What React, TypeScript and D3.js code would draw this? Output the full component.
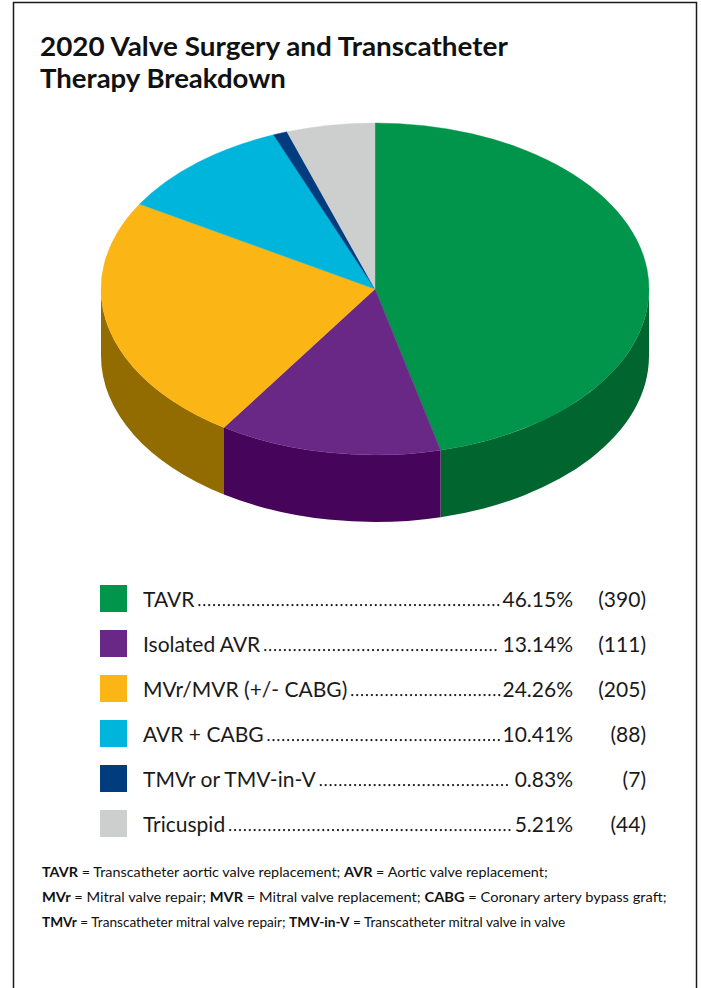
import React, { useEffect, useRef } from "react";
import * as d3 from "d3";

const categories = ["TAVR", "Isolated AVR", "MVr/MVR (+/- CABG)", "AVR + CABG", "TMVr or TMV-in-V", "Tricuspid"];
const counts = [390, 111, 205, 88, 7, 44];
const percentLabels = ["46.15%", "13.14%", "24.26%", "10.41%", "0.83%", "5.21%"];
const countLabels = ["(390)", "(111)", "(205)", "(88)", "(7)", "(44)"];
const topColors = ["#00954A", "#692886", "#FBB616", "#00B5DC", "#003C7E", "#CDCECE"];
const sideColors = ["#00652F", "#46045A", "#926C00", "#00789A", "#00264F", "#8E8F8F"];
const titleLines = ["2020 Valve Surgery and Transcatheter", "Therapy Breakdown"];
const footnoteLines: [string, boolean][][] = [
  [["TAVR", true], [" = Transcatheter aortic valve replacement; ", false], ["AVR", true], [" = Aortic valve replacement;", false]],
  [["MVr", true], [" = Mitral valve repair; ", false], ["MVR", true], [" = Mitral valve replacement; ", false], ["CABG", true], [" = Coronary artery bypass graft;", false]],
  [["TMVr", true], [" = Transcatheter mitral valve repair; ", false], ["TMV-in-V", true], [" = Transcatheter mitral valve in valve", false]],
];

const W = 701;
const H = 988;
const FONT = "Lato, 'Open Sans', sans-serif";

export default function App() {
  const ref = useRef<SVGSVGElement>(null);

  useEffect(() => {
    const draw = () => {
      const svg = d3.select(ref.current);
      svg.selectAll("*").remove();

      svg.append("rect").attr("x", 0).attr("y", 0).attr("width", W).attr("height", H).attr("fill", "#fff");
      svg.append("rect")
        .attr("x", 13.5).attr("y", 2.5).attr("width", 683).attr("height", 1000)
        .attr("fill", "none").attr("stroke", "#1a1a1a").attr("stroke-width", 1.5);

      // Title
      const titleWidths = [468, 246];
      titleLines.forEach((t, i) => {
        const g = svg.append("g");
        const txt = g.append("text")
          .attr("x", 0).attr("y", 0)
          .attr("font-family", FONT).attr("font-weight", 700).attr("font-size", 27)
          .attr("fill", "#111").text(t);
        const w = (txt.node() as SVGTextElement).getComputedTextLength();
        g.attr("transform", `translate(40,${56 + i * 32}) scale(${titleWidths[i] / w},1)`);
      });

      // 3D pie
      const cx = 375, cy = 289, rx = 274, ry = 166, depth = 67;
      const pie = d3.pie<number>().sort(null).value((d) => d).startAngle(0).endAngle(2 * Math.PI);
      const arcs = pie(counts);
      const pt = (a: number, dy = 0) => [cx + rx * Math.sin(a), cy - ry * Math.cos(a) + dy];

      const gSide = svg.append("g");
      arcs.forEach((a, i) => {
        const s0 = Math.max(a.startAngle, Math.PI / 2);
        const s1 = Math.min(a.endAngle, (3 * Math.PI) / 2);
        if (s1 <= s0) return;
        const p0 = pt(s0), p1 = pt(s1), q1 = pt(s1, depth), q0 = pt(s0, depth);
        const d = `M${p0[0]},${p0[1]} A${rx},${ry} 0 0 1 ${p1[0]},${p1[1]} L${q1[0]},${q1[1]} A${rx},${ry} 0 0 0 ${q0[0]},${q0[1]} Z`;
        gSide.append("path").attr("d", d).attr("fill", sideColors[i]);
      });

      const gTop = svg.append("g");
      arcs.forEach((a, i) => {
        const p0 = pt(a.startAngle), p1 = pt(a.endAngle);
        const large = a.endAngle - a.startAngle > Math.PI ? 1 : 0;
        const d = `M${cx},${cy} L${p0[0]},${p0[1]} A${rx},${ry} 0 ${large} 1 ${p1[0]},${p1[1]} Z`;
        gTop.append("path").attr("d", d).attr("fill", topColors[i])
          .attr("stroke", topColors[i]).attr("stroke-width", 0.4);
      });

      // Legend
      const rowY = d3.scaleBand<number>().domain(d3.range(categories.length)).range([576, 846]);
      const gLeg = svg.append("g").attr("font-family", FONT).attr("font-size", 21).attr("fill", "#1a1a1a");
      categories.forEach((c, i) => {
        const yc = (rowY(i) as number) + rowY.bandwidth() / 2;
        const base = yc + 8;
        gLeg.append("rect").attr("x", 100).attr("y", yc - 13.5).attr("width", 27).attr("height", 27).attr("fill", topColors[i]);
        const lab = gLeg.append("text").attr("x", 143).attr("y", base).text(c);
        const pct = gLeg.append("text").attr("x", 573).attr("y", base).attr("text-anchor", "end").text(percentLabels[i]);
        gLeg.append("text").attr("x", 646).attr("y", base).attr("text-anchor", "end").text(countLabels[i]);
        const lw = (lab.node() as SVGTextElement).getComputedTextLength();
        const pw = (pct.node() as SVGTextElement).getComputedTextLength();
        const x0 = 143 + lw + 5;
        const x1 = 573 - pw - 3;
        gLeg.append("line")
          .attr("x1", x0).attr("x2", x1).attr("y1", base - 1.4).attr("y2", base - 1.4)
          .attr("stroke", "#1a1a1a").attr("stroke-width", 2.3)
          .attr("stroke-linecap", "round").attr("stroke-dasharray", "0 4.9");
      });

      // Footnote
      const footWidths = [506, 625, 524];
      footnoteLines.forEach((line, i) => {
        const g = svg.append("g");
        const txt = g.append("text").attr("x", 0).attr("y", 0)
          .attr("font-family", FONT).attr("font-size", 14).attr("fill", "#111");
        line.forEach(([s, b]) => {
          txt.append("tspan").attr("font-weight", b ? 700 : 400).text(s);
        });
        const w = (txt.node() as SVGTextElement).getComputedTextLength();
        g.attr("transform", `translate(42,${877 + i * 25}) scale(${footWidths[i] / w},1)`);
      });
    };
    draw();
    if ((document as any).fonts && (document as any).fonts.ready) {
      (document as any).fonts.ready.then(draw);
    }
  }, []);

  return (
    <svg
      ref={ref}
      width={W}
      height={H}
      style={{ position: "absolute", left: 0, top: 0, display: "block" }}
    />
  );
}
